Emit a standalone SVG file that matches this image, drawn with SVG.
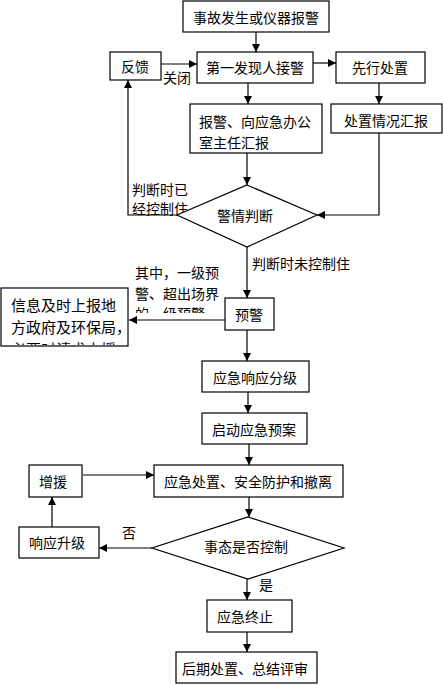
<svg xmlns="http://www.w3.org/2000/svg" width="443" height="686" viewBox="0 0 443 686">
<style>
.b{fill:#fff;stroke:#000;stroke-width:1.2}
.t{font-family:"Noto Sans CJK SC","Liberation Sans",sans-serif;font-size:14px;fill:#000;dominant-baseline:central}
.m{text-anchor:middle}
.l{fill:none;stroke:#000;stroke-width:1.2}
</style>
<defs>
<marker id="a" viewBox="0 0 10 10" refX="10" refY="5" markerWidth="8" markerHeight="8" markerUnits="userSpaceOnUse" orient="auto">
<path d="M0,0 L10,5 L0,10 z" fill="#000"/>
</marker>
<clipPath id="c1"><rect x="0" y="288" width="128" height="57"/></clipPath>
<clipPath id="c2"><rect x="130" y="255" width="95" height="58"/></clipPath>
</defs>
<rect width="443" height="686" fill="#fff"/>
<g id="connectors">
<path class="l" d="M256,32 V52" marker-end="url(#a)"/>
<path class="l" d="M161,64 H197" marker-end="url(#a)"/>
<path class="l" d="M313,63 H336" marker-end="url(#a)"/>
<path class="l" d="M248,83 V104" marker-end="url(#a)"/>
<path class="l" d="M379,83 V104" marker-end="url(#a)"/>
<path class="l" d="M247,153 V185" marker-end="url(#a)"/>
<path class="l" d="M379,133 V215 H317" marker-end="url(#a)"/>
<path class="l" d="M177,215 H128 V80" marker-end="url(#a)"/>
<path class="l" d="M247,247 V298" marker-end="url(#a)"/>
<path class="l" d="M225,320 H129" marker-end="url(#a)"/>
<path class="l" d="M247,330 V361" marker-end="url(#a)"/>
<path class="l" d="M248,392 V413" marker-end="url(#a)"/>
<path class="l" d="M249,444 V465" marker-end="url(#a)"/>
<path class="l" d="M83,475 H154" marker-end="url(#a)"/>
<path class="l" d="M249,497 V517" marker-end="url(#a)"/>
<path class="l" d="M152,548 H99" marker-end="url(#a)"/>
<path class="l" d="M52,527 V497" marker-end="url(#a)"/>
<path class="l" d="M247,579 V600" marker-end="url(#a)"/>
<path class="l" d="M247,632 V652" marker-end="url(#a)"/>
</g>
<g id="n1"><rect class="b" x="183" y="1" width="146" height="31"/><text class="t m" x="256" y="17">事故发生或仪器报警</text></g>
<g id="n2"><rect class="b" x="110" y="52" width="51" height="28"/><text class="t m" x="135" y="66">反馈</text></g>
<g id="lbl1"><text class="t" x="163" y="77">关闭</text></g>
<g id="n3"><rect class="b" x="197" y="52" width="116" height="31"/><text class="t m" x="255" y="67">第一发现人接警</text></g>
<g id="n4"><rect class="b" x="336" y="52" width="89" height="31"/><text class="t m" x="380" y="67">先行处置</text></g>
<g id="n5"><rect class="b" x="190" y="104" width="132" height="49"/><text class="t" x="199" y="121">报警、向应急办公</text><text class="t" x="199" y="142">室主任汇报</text></g>
<g id="n6"><rect class="b" x="331" y="104" width="111" height="29"/><text class="t m" x="386" y="120">处置情况汇报</text></g>
<g id="lbl2"><text class="t" x="132" y="189">判断时已</text><text class="t" x="132" y="208">经控制住</text></g>
<g id="n7"><path class="b" d="M247,185 L317,215 L247,247 L177,215 z"/><text class="t m" x="245" y="215">警情判断</text></g>
<g id="lbl3"><text class="t" x="252" y="263">判断时未控制住</text></g>
<g id="lbl4" clip-path="url(#c2)"><text class="t" x="135" y="272">其中，一级预</text><text class="t" x="135" y="293">警、超出场界</text><text class="t" x="135" y="313">的一级预警</text></g>
<g id="n8"><rect class="b" x="225" y="298" width="49" height="32"/><text class="t m" x="249" y="314">预警</text></g>
<g id="n9"><rect class="b" x="1" y="288" width="127" height="58"/><g clip-path="url(#c1)"><text class="t" x="11" y="304" style="font-size:15px">信息及时上报地</text><text class="t" x="11" y="326" style="font-size:15px">方政府及环保局，</text><text class="t" x="11" y="348" style="font-size:15px">必要时请求支援</text></g></g>
<g id="n10"><rect class="b" x="202" y="361" width="107" height="31"/><text class="t m" x="255" y="377">应急响应分级</text></g>
<g id="n11"><rect class="b" x="202" y="413" width="105" height="31"/><text class="t m" x="254" y="429">启动应急预案</text></g>
<g id="n12"><rect class="b" x="154" y="465" width="189" height="32"/><text class="t m" x="248" y="481">应急处置、安全防护和撤离</text></g>
<g id="n13"><rect class="b" x="29" y="465" width="53" height="32"/><text class="t m" x="53" y="481">增援</text></g>
<g id="n14"><path class="b" d="M248,517 L344,548 L248,579 L152,548 z"/><text class="t m" x="246" y="546">事态是否控制</text></g>
<g id="n15"><rect class="b" x="19" y="527" width="80" height="31"/><text class="t m" x="57" y="542">响应升级</text></g>
<g id="lbl5"><text class="t" x="122" y="532">否</text></g>
<g id="lbl6"><text class="t" x="259" y="584">是</text></g>
<g id="n16"><rect class="b" x="207" y="600" width="85" height="32"/><text class="t m" x="245" y="616">应急终止</text></g>
<g id="n17"><rect class="b" x="176" y="652" width="141" height="31"/><text class="t m" x="245" y="668">后期处置、总结评审</text></g>
</svg>
